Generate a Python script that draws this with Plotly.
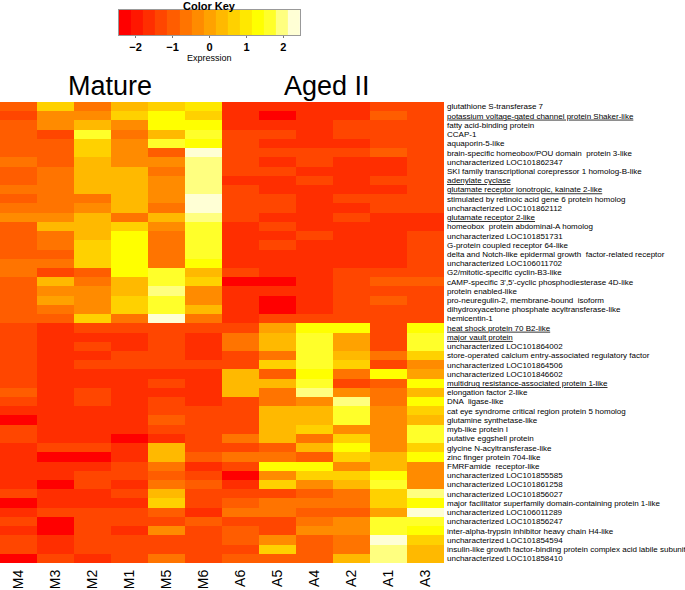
import plotly.graph_objects as go

samples = ['M4', 'M3', 'M2', 'M1', 'M5', 'M6', 'A6', 'A5', 'A4', 'A2', 'A1', 'A3']

genes = [
    'glutathione S-transferase 7',
    'potassium voltage-gated channel protein Shaker-like',
    'fatty acid-binding protein',
    'CCAP-1',
    'aquaporin-5-like',
    'brain-specific homeobox/POU domain  protein 3-like',
    'uncharacterized LOC101862347',
    'SKI family transcriptional corepressor 1 homolog-B-like',
    'adenylate cyclase',
    'glutamate receptor ionotropic, kainate 2-like',
    'stimulated by retinoic acid gene 6 protein homolog',
    'uncharacterized LOC101862112',
    'glutamate receptor 2-like',
    'homeobox  protein abdominal-A homolog',
    'uncharacterized LOC101851731',
    'G-protein coupled receptor 64-like',
    'delta and Notch-like epidermal growth  factor-related receptor',
    'uncharacterized LOC106011702',
    'G2/mitotic-specific cyclin-B3-like',
    "cAMP-specific 3',5'-cyclic phosphodiesterase 4D-like",
    'protein enabled-like',
    'pro-neuregulin-2, membrane-bound  isoform',
    'dihydroxyacetone phosphate acyltransferase-like',
    'hemicentin-1',
    'heat shock protein 70 B2-like',
    'major vault protein',
    'uncharacterized LOC101864002',
    'store-operated calcium entry-associated regulatory factor',
    'uncharacterized LOC101864506',
    'uncharacterized LOC101846602',
    'multidrug resistance-associated protein 1-like',
    'elongation factor 2-like',
    'DNA  ligase-like',
    'cat eye syndrome critical region protein 5 homolog',
    'glutamine synthetase-like',
    'myb-like protein I',
    'putative eggshell protein',
    'glycine N-acyltransferase-like',
    'zinc finger protein 704-like',
    'FMRFamide  receptor-like',
    'uncharacterized LOC101855585',
    'uncharacterized LOC101861258',
    'uncharacterized LOC101856027',
    'major facilitator superfamily domain-containing protein 1-like',
    'uncharacterized LOC106011289',
    'uncharacterized LOC101856247',
    'inter-alpha-trypsin inhibitor heavy chain H4-like',
    'uncharacterized LOC101854594',
    'insulin-like growth factor-binding protein complex acid labile subunit',
    'uncharacterized LOC101858410',
]

underlined = [
    'potassium voltage-gated channel protein Shaker-like',
    'adenylate cyclase',
    'glutamate receptor ionotropic, kainate 2-like',
    'glutamate receptor 2-like',
    'heat shock protein 70 B2-like',
    'major vault protein',
    'multidrug resistance-associated protein 1-like',
]

# expression (row z-scores), one list per sample, genes top to bottom
M4 = [-1.0, -1.3, -1.0, -1.0, -1.0, -1.0, -0.65, -1.0, -1.0, -0.65,
      -1.0, -0.65, -0.3, -1.0, -1.0, -1.0, -1.0, -0.65, -0.65, -1.0,
      -1.0, -1.0, -1.0, -1.0, -1.3, -1.3, -1.3, -1.3, -1.3, -1.3,
      -1.3, -1.0, -1.3, -1.6, -2.3, -1.3, -1.3, -1.6, -1.6, -1.6,
      -1.6, -1.6, -1.3, -2.3, -1.6, -1.3, -1.6, -1.3, -1.3, -2.3]
M3 = [0.65, -0.3, -0.3, -1.3, -1.0, -1.0, -1.0, -0.65, -0.65, -0.65,
      -0.65, -0.65, -0.3, 0.3, -0.65, -0.65, -1.0, -0.65, -1.3, 0.3,
      -0.3, 0.0, -0.65, -1.0, -1.6, -1.6, -1.6, -1.6, -1.6, -1.6,
      -1.6, -1.6, -1.6, -1.6, -1.6, -1.6, -1.6, -1.3, -2.3, -1.6,
      -1.6, -2.3, -1.6, -1.6, -1.3, -2.3, -2.3, -1.6, -1.6, -1.3]
M2 = [-0.65, -0.3, 0.3, 1.6, 0.65, 0.65, 0.3, 0.3, 0.3, 0.3,
      -0.65, -0.3, 0.3, 0.3, 0.3, 0.65, 0.65, 0.65, -1.0, -0.65,
      -0.3, -0.3, -0.3, 0.65, -1.3, -1.6, -1.3, -1.6, -1.3, -1.6,
      -1.6, -1.3, -1.3, -1.6, -1.6, -1.6, -1.6, -1.3, -2.3, -1.6,
      -1.3, -1.3, -1.6, -1.6, -1.3, -1.3, -1.3, -1.3, -1.3, -1.6]
M1 = [0.3, 0.65, -0.3, -0.65, -0.3, -0.3, -0.3, 0.3, 0.3, 0.3,
      0.3, 0.3, -0.65, 0.65, 1.3, 1.3, 1.3, 1.3, 1.3, 0.3,
      0.3, 0.65, 0.65, -0.65, -1.3, -1.6, -1.6, -1.3, -1.3, -1.6,
      -1.6, -1.6, -1.6, -1.6, -1.6, -1.6, -2.3, -1.6, -1.6, -1.3,
      -1.3, -1.6, -1.3, -1.6, -1.3, -1.3, -1.6, -1.3, -1.3, -1.3]
M5 = [0.65, 1.3, 1.3, 0.3, 1.6, -1.0, -0.3, -0.65, -0.3, -0.3,
      -0.3, -0.65, 0.3, -0.3, -0.65, -0.65, -0.65, -0.65, 1.6, 1.6,
      2.0, 1.6, 1.6, 2.3, -1.3, -1.3, -1.3, -1.3, -1.3, -1.6,
      -1.3, -1.6, -1.3, -1.3, -1.0, -1.3, -1.6, 0.3, 0.3, -0.65,
      -1.0, -0.65, 0.3, 0.65, -1.0, -1.3, -0.3, -1.3, -1.3, -0.65]
M6 = [1.0, 0.65, 1.3, 1.6, 1.3, 2.3, 2.0, 2.0, 2.0, 2.0,
      2.3, 2.3, 2.0, 1.6, 1.6, 1.6, 1.6, 1.3, 0.3, 0.65,
      -0.3, -0.3, 0.3, -0.65, -1.3, -1.6, -1.6, -1.6, -1.3, -1.6,
      -1.6, -1.6, -1.6, -1.3, -1.3, -1.3, -1.3, -1.3, -1.0, -1.6,
      -1.3, -1.0, -1.3, -1.3, -1.6, -1.0, -1.3, -1.3, -1.3, -1.3]
A6 = [-1.6, -1.6, -1.6, -1.3, -1.3, -1.3, -1.3, -1.3, -1.6, -1.3,
      -1.3, -1.3, -1.3, -1.6, -1.6, -1.6, -1.6, -1.6, -1.3, -2.3,
      -1.6, -1.6, -1.6, -1.6, -1.3, -0.65, -0.65, -1.3, -1.3, 0.3,
      0.3, 0.3, -1.3, -1.3, -1.3, -1.3, -0.65, -1.3, -0.65, -1.3,
      -2.3, -1.6, -1.3, -1.0, -0.65, -1.3, -1.0, -1.0, -1.3, -1.0]
A5 = [-1.6, -2.3, -1.6, -1.3, -1.6, -1.3, -1.6, -1.3, -1.6, -1.6,
      -1.3, -1.3, -1.6, -1.3, -1.6, -1.3, -1.6, -1.6, -1.6, -2.3,
      -1.6, -2.3, -2.3, -1.3, 0.0, 0.3, 0.3, -0.65, 0.65, -1.0,
      0.3, -0.65, -0.65, 0.3, 0.3, 0.3, 0.3, -1.0, -0.65, 1.3,
      -0.3, 0.65, -1.3, -0.65, -0.65, -1.3, -1.3, -0.3, 0.65, -1.0]
A4 = [-1.6, -1.6, -1.6, -1.6, -1.6, -1.3, -1.3, -1.6, -1.3, -1.6,
      -1.6, -1.6, -1.6, -1.6, -1.3, -1.6, -1.6, -1.6, -1.6, -1.6,
      -1.6, -1.6, -1.6, -1.3, 1.3, 1.6, 1.6, 1.6, 1.6, 1.3,
      1.6, 2.0, -0.3, 0.3, 0.3, 0.65, -0.65, 0.3, -1.0, 1.3,
      0.65, -0.3, -1.0, -0.65, -1.0, -0.65, -0.3, -1.0, -1.0, -1.0]
A2 = [-1.6, -1.6, -1.3, -1.3, -1.6, -1.3, -1.6, -1.6, -1.6, -1.6,
      -1.3, -1.6, -1.3, -1.6, -1.6, -1.6, -1.6, -1.6, -1.3, -1.3,
      -1.3, -1.3, -1.3, -1.3, 1.3, 0.0, 0.0, 0.3, 0.65, -0.65,
      -1.3, -0.3, 2.0, 1.6, 1.6, -0.3, 0.65, 1.3, 0.65, -0.3,
      0.65, 0.3, -0.65, -0.65, -1.0, -0.3, -0.3, -0.65, -0.65, 0.3]
A1 = [-1.3, -1.0, -1.3, -1.3, -1.3, -1.0, -1.6, -1.6, -1.3, -1.6,
      -1.3, -1.3, -1.6, -1.6, -1.6, -1.6, -1.6, -1.6, -1.3, -1.0,
      -1.3, -1.0, -1.3, -1.3, -1.3, -1.3, -1.3, -0.65, -1.3, 1.3,
      -1.0, -0.65, -0.65, -0.3, -0.3, -0.3, -0.3, -0.3, 0.3, 0.3,
      1.3, 1.6, 0.65, 0.65, 0.0, 1.6, 1.6, 2.3, 2.0, 2.0]
A3 = [-1.3, -1.3, -1.3, -1.3, -1.3, -1.3, -1.3, -1.3, -1.3, -1.3,
      -1.3, -1.3, -1.6, -1.6, -1.3, -1.3, -1.3, -1.3, -1.3, -1.0,
      -1.3, -1.3, -1.3, -1.3, 1.3, 1.6, 1.6, 0.65, -0.3, 0.0,
      1.3, 0.3, 1.3, 0.65, 0.3, 1.6, 1.6, 0.65, 1.3, -0.3,
      -0.3, -0.3, 2.0, 1.3, 2.3, 1.6, 1.3, 0.65, 0.3, 0.3]

# color key: one cell per colour step
key_values = [-2.29, -1.96, -1.63, -1.31, -0.98, -0.65, -0.33, 0.0,
              0.33, 0.65, 0.98, 1.31, 1.63, 1.96, 2.29]
key_ticks = [-2, -1, 0, 1, 2]

# R heat.colors(15)
heat = ['#FF0000', '#FF1700', '#FF2E00', '#FF4600', '#FF5D00', '#FF7400',
        '#FF8B00', '#FFA200', '#FFB900', '#FFD100', '#FFE800', '#FFFF00',
        '#FFFF2A', '#FFFF80', '#FFFFD5']
n = len(heat)
colorscale = []
for i, c in enumerate(heat):
    colorscale.append([i / n, c])
    colorscale.append([(i + 1) / n, c])

columns = [M4, M3, M2, M1, M5, M6, A6, A5, A4, A2, A1, A3]
z = [list(r) for r in zip(*columns)]
labels = ['<u>' + g + '</u>' if g in underlined else g for g in genes]

font = 'Liberation Sans, Arial, sans-serif'

# pixel helpers: plot area is 444 x 563 px (margins l=0, r=241, t=0, b=27)
W, H = 444, 563
def px(x):
    return x / W
def py(y):
    return (H - y) / H

fig = go.Figure()
fig.add_trace(go.Heatmap(
    z=z,
    x=samples,
    y=labels,
    colorscale=colorscale,
    zmin=-2.45,
    zmax=2.45,
    showscale=False,
    hovertemplate='%{y}<br>%{x}: %{z:.2f}<extra></extra>',
))

fig.add_trace(go.Heatmap(
    z=[key_values],
    x=key_values,
    y=[0],
    colorscale=colorscale,
    zmin=-2.45,
    zmax=2.45,
    showscale=False,
    xaxis='x2',
    yaxis='y2',
    hovertemplate='%{x:.2f}<extra></extra>',
))

for text, x, y, size in [('<b>Color Key</b>', 209, 6, 11),
                         ('Expression', 209, 58, 9),
                         ('Mature', 110, 86, 27),
                         ('Aged II', 327, 86, 27)]:
    fig.add_annotation(text=text, x=px(x), y=py(y), xref='paper', yref='paper',
                       xanchor='center', yanchor='middle', showarrow=False,
                       font=dict(family=font, size=size, color='black'))

fig.update_layout(
    width=685,
    height=590,
    margin=dict(l=0, r=241, t=0, b=27),
    paper_bgcolor='white',
    plot_bgcolor='white',
    font=dict(family=font, color='black'),
    xaxis=dict(tickangle=-90, tickfont=dict(size=14), ticks='',
               showgrid=False, zeroline=False, automargin=False,
               ticklabelstandoff=3),
    yaxis=dict(domain=[0, py(102)], side='right', autorange='reversed',
               tickmode='array', tickvals=labels, ticktext=labels,
               tickfont=dict(size=8), ticks='', showgrid=False,
               zeroline=False, automargin=False, ticklabelstandoff=2),
    xaxis2=dict(domain=[px(119), px(300)], anchor='y2', range=[-2.45, 2.45],
                tickvals=key_ticks, ticks='outside', ticklen=2,
                tickcolor='#777777',
                tickfont=dict(size=11, color='black', weight='bold'),
                showline=True, mirror=True, linecolor='#999999', linewidth=1,
                showgrid=False, zeroline=False, automargin=False),
    yaxis2=dict(domain=[py(35), py(10)], anchor='x2', range=[-0.5, 0.5],
                showticklabels=False, ticks='', showline=True, mirror=True,
                linecolor='#999999', linewidth=1, showgrid=False,
                zeroline=False, automargin=False),
)

# the page's default body margin would shift the figure by 8 px
fig.write_html('out.html', config={'displayModeBar': False},
               post_script="document.body.style.margin = '0';")
